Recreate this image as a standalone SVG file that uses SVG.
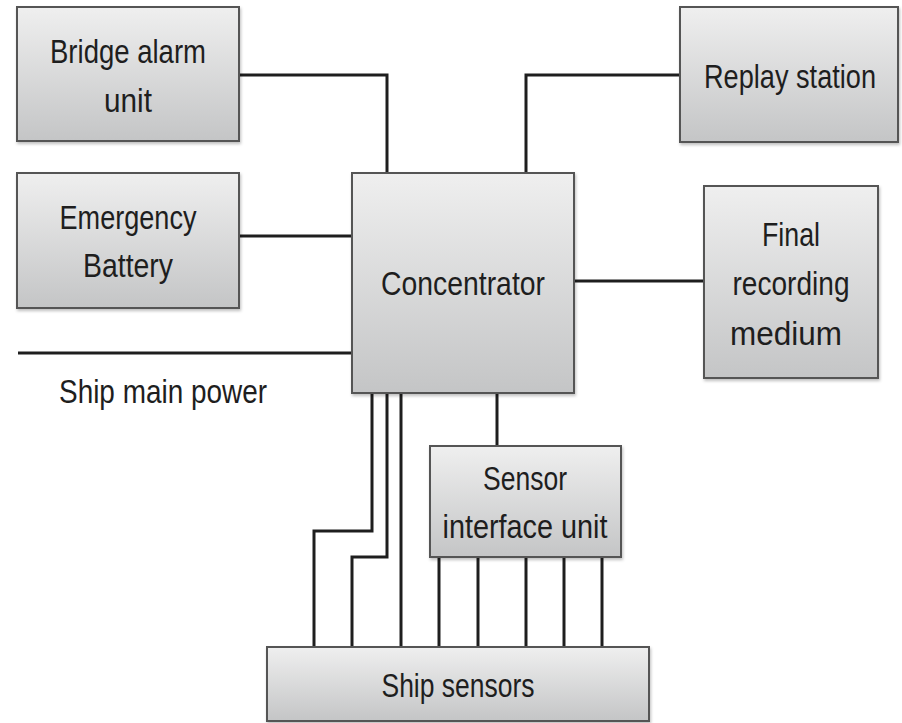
<svg xmlns="http://www.w3.org/2000/svg" width="902" height="723" viewBox="0 0 902 723">
<defs>
<linearGradient id="g" x1="0" y1="0" x2="0" y2="1">
<stop offset="0" stop-color="#efefef"/>
<stop offset="1" stop-color="#c4c5c6"/>
</linearGradient>
<filter id="sh" x="-10%" y="-10%" width="120%" height="130%">
<feDropShadow dx="1" dy="2" stdDeviation="1.5" flood-color="#000" flood-opacity="0.25"/>
</filter>
</defs>
<style>
.box{fill:url(#g);stroke:#555;stroke-width:2;filter:url(#sh)}
.w{fill:none;stroke:#1e1e1e;stroke-width:3;stroke-linejoin:miter}
text{font-family:"Liberation Sans",Arial,sans-serif;font-size:34px;fill:#1e1e1e;text-anchor:middle}
</style>
<rect width="902" height="723" fill="#fff"/>
<g id="connectors">
<polyline class="w" points="239,75 387,75 387,173"/>
<polyline class="w" points="239,236 352,236"/>
<polyline class="w" points="680,75 526,75 526,173"/>
<polyline class="w" points="574,281 704,281"/>
<polyline class="w" points="18,353 352,353"/>
<polyline class="w" points="372,393 372,531 314,531 314,647"/>
<polyline class="w" points="387,393 387,557 352,557 352,647"/>
<polyline class="w" points="401,393 401,647"/>
<polyline class="w" points="497,393 497,446"/>
<polyline class="w" points="439,557 439,647"/>
<polyline class="w" points="478,557 478,647"/>
<polyline class="w" points="526,557 526,647"/>
<polyline class="w" points="564,557 564,647"/>
<polyline class="w" points="602,557 602,647"/>
</g>
<g id="bridge-alarm">
<rect class="box" x="17" y="7" width="222" height="134"/>
<text x="128" y="63" textLength="156" lengthAdjust="spacingAndGlyphs">Bridge alarm</text>
<text x="128" y="112" textLength="48" lengthAdjust="spacingAndGlyphs">unit</text>
</g>
<g id="emergency-battery">
<rect class="box" x="17" y="173" width="222" height="135"/>
<text x="128" y="229" textLength="137" lengthAdjust="spacingAndGlyphs">Emergency</text>
<text x="128" y="277" textLength="90" lengthAdjust="spacingAndGlyphs">Battery</text>
</g>
<g id="concentrator">
<rect class="box" x="352" y="173" width="222" height="220"/>
<text x="463" y="295" textLength="164" lengthAdjust="spacingAndGlyphs">Concentrator</text>
</g>
<g id="replay-station">
<rect class="box" x="680" y="7" width="218" height="135"/>
<text x="790" y="88" textLength="172" lengthAdjust="spacingAndGlyphs">Replay station</text>
</g>
<g id="final-recording">
<rect class="box" x="704" y="186" width="174" height="192"/>
<text x="791" y="246" textLength="58" lengthAdjust="spacingAndGlyphs">Final</text>
<text x="791" y="295" textLength="117" lengthAdjust="spacingAndGlyphs">recording</text>
<text x="786" y="345" textLength="112" lengthAdjust="spacingAndGlyphs">medium</text>
</g>
<g id="ship-main-power">
<text x="163" y="403" textLength="208" lengthAdjust="spacingAndGlyphs">Ship main power</text>
</g>
<g id="sensor-interface">
<rect class="box" x="430" y="446" width="191" height="111"/>
<text x="525" y="490" textLength="84" lengthAdjust="spacingAndGlyphs">Sensor</text>
<text x="525" y="538" textLength="165" lengthAdjust="spacingAndGlyphs">interface unit</text>
</g>
<g id="ship-sensors">
<rect class="box" x="267" y="647" width="382" height="74"/>
<text x="458" y="697" textLength="153" lengthAdjust="spacingAndGlyphs">Ship sensors</text>
</g>
</svg>
